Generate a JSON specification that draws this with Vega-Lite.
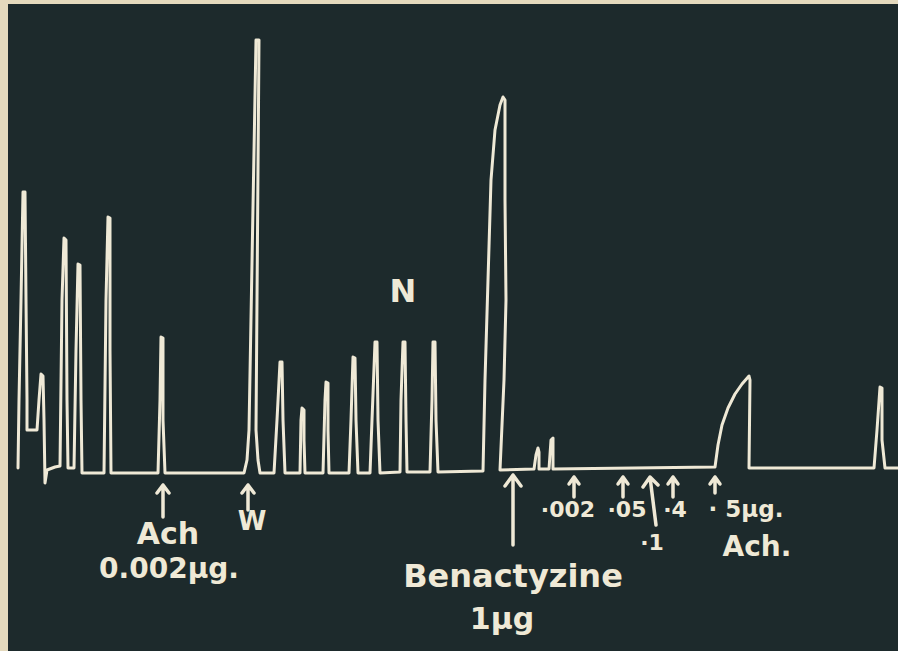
{
  "$schema": "https://vega.github.io/schema/vega-lite/v6.json",
  "width": 898,
  "height": 651,
  "autosize": {"type": "fit", "contains": "padding"},
  "padding": {"left": 8, "top": 4, "right": 0, "bottom": 0},
  "background": "#e4d9bd",
  "config": {"view": {"stroke": null, "fill": "#1d2a2c"}},
  "datasets": {
    "trace": [
      {"o":1,"x":18,"y":468},{"o":2,"x":19,"y":400},{"o":3,"x":21,"y":300},{"o":4,"x":23,"y":192},{"o":5,"x":25,"y":192},{"o":6,"x":26,"y":300},{"o":7,"x":27,"y":400},{"o":8,"x":27,"y":430},{"o":9,"x":37,"y":430},{"o":10,"x":39,"y":400},{"o":11,"x":41,"y":374},{"o":12,"x":43,"y":376},{"o":13,"x":44,"y":420},{"o":14,"x":45,"y":483},{"o":15,"x":47,"y":470},{"o":16,"x":55,"y":467},{"o":17,"x":60,"y":466},{"o":18,"x":62,"y":300},{"o":19,"x":64,"y":238},{"o":20,"x":66,"y":240},{"o":21,"x":67,"y":400},{"o":22,"x":68,"y":468},{"o":23,"x":74,"y":468},{"o":24,"x":76,"y":350},{"o":25,"x":78,"y":264},{"o":26,"x":80,"y":265},{"o":27,"x":81,"y":400},{"o":28,"x":82,"y":473},{"o":29,"x":104,"y":473},{"o":30,"x":106,"y":300},{"o":31,"x":108,"y":217},{"o":32,"x":110,"y":218},{"o":33,"x":110,"y":350},{"o":34,"x":111,"y":473},
      {"o":35,"x":158,"y":473},{"o":36,"x":160,"y":400},{"o":37,"x":161,"y":337},{"o":38,"x":163,"y":338},{"o":39,"x":163,"y":420},{"o":40,"x":165,"y":473},
      {"o":41,"x":244,"y":473},{"o":42,"x":247,"y":460},{"o":43,"x":249,"y":430},{"o":44,"x":256,"y":40},{"o":45,"x":259,"y":40},{"o":46,"x":256,"y":430},{"o":47,"x":258,"y":460},{"o":48,"x":260,"y":473},
      {"o":49,"x":274,"y":473},{"o":50,"x":277,"y":420},{"o":51,"x":280,"y":362},{"o":52,"x":282,"y":362},{"o":53,"x":283,"y":420},{"o":54,"x":285,"y":473},
      {"o":55,"x":300,"y":473},{"o":56,"x":301,"y":420},{"o":57,"x":302,"y":408},{"o":58,"x":304,"y":410},{"o":59,"x":304,"y":440},{"o":60,"x":305,"y":473},
      {"o":61,"x":323,"y":473},{"o":62,"x":325,"y":400},{"o":63,"x":326,"y":382},{"o":64,"x":328,"y":383},{"o":65,"x":328,"y":430},{"o":66,"x":329,"y":473},
      {"o":67,"x":349,"y":473},{"o":68,"x":351,"y":420},{"o":69,"x":353,"y":357},{"o":70,"x":355,"y":358},{"o":71,"x":356,"y":420},{"o":72,"x":358,"y":473},
      {"o":73,"x":370,"y":473},{"o":74,"x":372,"y":420},{"o":75,"x":375,"y":342},{"o":76,"x":377,"y":342},{"o":77,"x":378,"y":420},{"o":78,"x":380,"y":473},
      {"o":79,"x":400,"y":472},{"o":80,"x":401,"y":400},{"o":81,"x":403,"y":342},{"o":82,"x":405,"y":342},{"o":83,"x":406,"y":420},{"o":84,"x":407,"y":472},
      {"o":85,"x":430,"y":472},{"o":86,"x":432,"y":400},{"o":87,"x":433,"y":342},{"o":88,"x":435,"y":342},{"o":89,"x":436,"y":420},{"o":90,"x":438,"y":472},
      {"o":91,"x":483,"y":471},{"o":92,"x":485,"y":380},{"o":93,"x":488,"y":280},{"o":94,"x":491,"y":180},{"o":95,"x":495,"y":130},{"o":96,"x":500,"y":105},{"o":97,"x":503,"y":97},{"o":98,"x":505,"y":100},{"o":99,"x":505,"y":200},{"o":100,"x":506,"y":300},{"o":101,"x":504,"y":380},{"o":102,"x":500,"y":470},
      {"o":103,"x":534,"y":469},{"o":104,"x":536,"y":455},{"o":105,"x":538,"y":448},{"o":106,"x":539,"y":452},{"o":107,"x":539,"y":469},
      {"o":108,"x":549,"y":469},{"o":109,"x":551,"y":440},{"o":110,"x":553,"y":438},{"o":111,"x":553,"y":469},
      {"o":112,"x":715,"y":467},{"o":113,"x":718,"y":445},{"o":114,"x":722,"y":425},{"o":115,"x":728,"y":408},{"o":116,"x":735,"y":394},{"o":117,"x":742,"y":384},{"o":118,"x":749,"y":376},{"o":119,"x":750,"y":380},{"o":120,"x":749,"y":468},
      {"o":121,"x":874,"y":468},{"o":122,"x":877,"y":430},{"o":123,"x":880,"y":387},{"o":124,"x":882,"y":388},{"o":125,"x":882,"y":440},{"o":126,"x":885,"y":468},{"o":127,"x":898,"y":468}
    ],
    "arrows": [
      {"a":1,"o":1,"x":163,"y":517},{"a":1,"o":2,"x":163,"y":485},{"a":1,"o":3,"x":157,"y":493},{"a":1,"o":4,"x":163,"y":485},{"a":1,"o":5,"x":169,"y":493},
      {"a":2,"o":1,"x":248,"y":510},{"a":2,"o":2,"x":248,"y":485},{"a":2,"o":3,"x":242,"y":493},{"a":2,"o":4,"x":248,"y":485},{"a":2,"o":5,"x":254,"y":493},
      {"a":3,"o":1,"x":513,"y":545},{"a":3,"o":2,"x":513,"y":475},{"a":3,"o":3,"x":505,"y":486},{"a":3,"o":4,"x":513,"y":475},{"a":3,"o":5,"x":521,"y":486},
      {"a":4,"o":1,"x":574,"y":497},{"a":4,"o":2,"x":574,"y":477},{"a":4,"o":3,"x":569,"y":484},{"a":4,"o":4,"x":574,"y":477},{"a":4,"o":5,"x":579,"y":484},
      {"a":5,"o":1,"x":623,"y":497},{"a":5,"o":2,"x":623,"y":477},{"a":5,"o":3,"x":618,"y":484},{"a":5,"o":4,"x":623,"y":477},{"a":5,"o":5,"x":628,"y":484},
      {"a":6,"o":1,"x":656,"y":525},{"a":6,"o":2,"x":650,"y":477},{"a":6,"o":3,"x":643,"y":487},{"a":6,"o":4,"x":650,"y":477},{"a":6,"o":5,"x":658,"y":485},
      {"a":7,"o":1,"x":673,"y":497},{"a":7,"o":2,"x":673,"y":477},{"a":7,"o":3,"x":668,"y":484},{"a":7,"o":4,"x":673,"y":477},{"a":7,"o":5,"x":678,"y":484},
      {"a":8,"o":1,"x":715,"y":493},{"a":8,"o":2,"x":715,"y":477},{"a":8,"o":3,"x":710,"y":484},{"a":8,"o":4,"x":715,"y":477},{"a":8,"o":5,"x":720,"y":484}
    ],
    "labels": [
      {"t":"N","x":403,"y":292,"s":32},
      {"t":"Ach","x":168,"y":535,"s":30},
      {"t":"0.002μg.","x":169,"y":570,"s":28},
      {"t":"W","x":252,"y":522,"s":26},
      {"t":"Benactyzine","x":513,"y":577,"s":32},
      {"t":"1μg","x":502,"y":620,"s":30},
      {"t":"·002","x":568,"y":510,"s":22},
      {"t":"·05","x":627,"y":510,"s":22},
      {"t":"·1","x":652,"y":543,"s":22},
      {"t":"·4","x":675,"y":510,"s":22},
      {"t":"· 5μg.","x":746,"y":510,"s":23},
      {"t":"Ach.","x":757,"y":548,"s":28}
    ]
  },
  "encoding": {
    "x": {"field": "x", "type": "quantitative", "scale": {"domain": [8, 898], "nice": false, "zero": false}, "axis": null},
    "y": {"field": "y", "type": "quantitative", "scale": {"domain": [4, 651], "nice": false, "zero": false, "reverse": true}, "axis": null}
  },
  "layer": [
    {
      "data": {"name": "trace"},
      "mark": {"type": "line", "color": "#efe9d6", "strokeWidth": 3, "strokeJoin": "round", "strokeCap": "round", "clip": true},
      "encoding": {"order": {"field": "o", "type": "quantitative"}}
    },
    {
      "data": {"name": "arrows"},
      "mark": {"type": "line", "color": "#efe9d6", "strokeWidth": 3.5, "strokeJoin": "round", "strokeCap": "round", "clip": true},
      "encoding": {"detail": {"field": "a", "type": "nominal"}, "order": {"field": "o", "type": "quantitative"}}
    },
    {
      "data": {"name": "labels"},
      "mark": {"type": "text", "color": "#efe9d6", "font": "DejaVu Sans", "fontWeight": "bold", "align": "center", "baseline": "middle"},
      "encoding": {"text": {"field": "t"}, "size": {"field": "s", "type": "quantitative", "scale": null}}
    }
  ]
}
